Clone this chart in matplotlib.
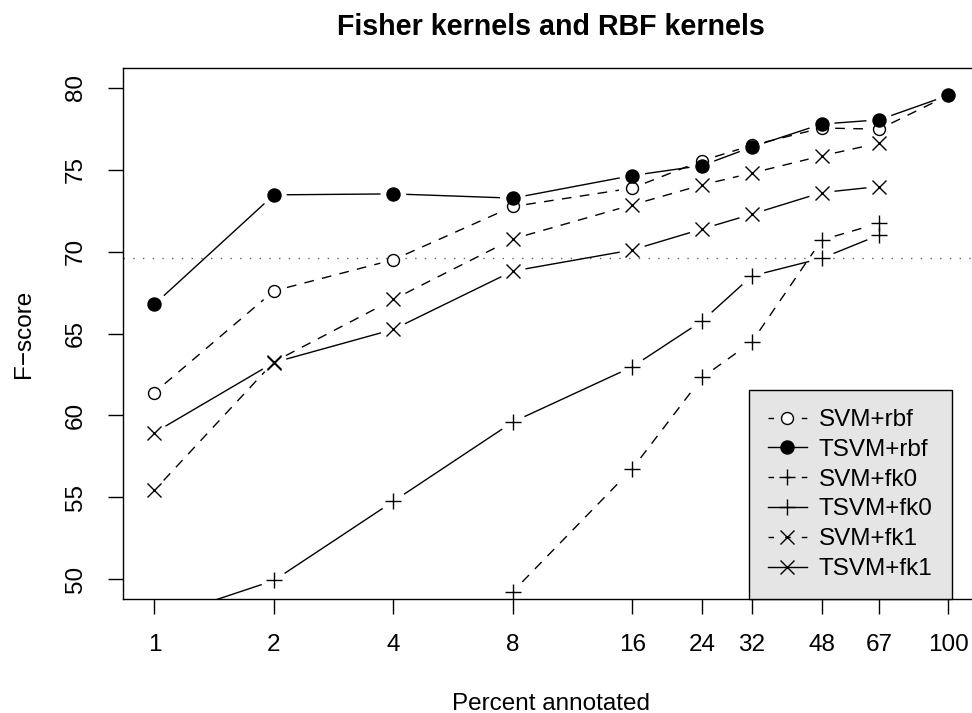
import numpy as np
import matplotlib
matplotlib.use("Agg")
import matplotlib.pyplot as plt
from matplotlib.lines import Line2D

plt.rcParams['font.family'] = ['Liberation Sans', 'DejaVu Sans']

# percent of annotated data (x) and F-scores per method
pct = [1, 2, 4, 8, 16, 24, 32, 48, 67, 100]
svm_rbf = [61.4, 67.6, 69.5, 72.75, 73.87, 75.55, 76.48, 77.54, 77.47, 79.53]
tsvm_rbf = [66.78, 73.46, 73.52, 73.26, 74.64, 75.25, 76.38, 77.78, 78.04, 79.53]
svm_fk0 = [np.nan, np.nan, np.nan, 49.25, 56.75, 62.32, 64.49, 70.71, 71.73, np.nan]
tsvm_fk0 = [47.5, 49.93, 54.76, 59.6, 62.97, 65.77, 68.51, 69.59, 71.01, np.nan]
svm_fk1 = [55.43, 63.27, 67.08, 70.77, 72.85, 74.07, 74.79, 75.84, 76.62, np.nan]
tsvm_fk1 = [58.95, 63.23, 65.25, 68.81, 70.10, 71.38, 72.28, 73.60, 73.97, np.nan]
baseline = 69.63

labels = ['SVM+rbf', 'TSVM+rbf', 'SVM+fk0', 'TSVM+fk0', 'SVM+fk1', 'TSVM+fk1']
series = [svm_rbf, tsvm_rbf, svm_fk0, tsvm_fk0, svm_fk1, tsvm_fk1]

DASH = (0, (7, 6))
LEG_DASH = (0, (4, 8))
styles = [
    dict(ls=DASH, marker='o', ms=8.6, mfc='white'),
    dict(ls='-', marker='o', ms=9.4, mfc='black'),
    dict(ls=DASH, marker='+', ms=11.5, mfc='none'),
    dict(ls='-', marker='+', ms=11.5, mfc='none'),
    dict(ls=DASH, marker='x', ms=9.4, mfc='none'),
    dict(ls='-', marker='x', ms=9.4, mfc='none'),
]
FS = 17.5

fig = plt.figure(figsize=(9.72, 7.13), dpi=100)
ax = fig.add_axes([0.1262, 0.1599, 0.882, 0.7447])
ax.set_xscale('log')
ax.set_xlim(10 ** -0.08, 10 ** 2.08)
ax.set_ylim(48.8, 81.2)

ax.axhline(baseline, color='#666666', lw=1, ls=(0, (1, 6)), zorder=1)


def draw_b(x, y, st, gap=13.5):
    # R style type="b": segments stop short of each point
    x = np.asarray(x, float)
    y = np.asarray(y, float)
    pts = ax.transData.transform(np.column_stack([x, y]))
    inv = ax.transData.inverted()
    for i in range(len(x) - 1):
        if np.isnan(y[i]) or np.isnan(y[i + 1]):
            continue
        d = pts[i + 1] - pts[i]
        L = np.hypot(*d)
        if L <= 2 * gap:
            continue
        u = d / L
        seg = inv.transform([pts[i] + u * gap, pts[i + 1] - u * gap])
        ax.plot(seg[:, 0], seg[:, 1], color='black', lw=1, ls=st['ls'], zorder=2)
    ax.plot(x, y, ls='none', marker=st['marker'], ms=st['ms'],
            mfc=st['mfc'], mec='black', mew=1, zorder=3)


for y, st in zip(series, styles):
    draw_b(pct, y, st)

handles = [Line2D([], [], color='black', lw=1,
                  ls=LEG_DASH if st['ls'] == DASH else '-',
                  marker=st['marker'], ms=st['ms'], mfc=st['mfc'],
                  mec='black', mew=1) for st in styles]
leg = ax.legend(handles, labels, loc='lower right', bbox_to_anchor=(0.967, 0.0),
                borderaxespad=0, fontsize=FS, frameon=True, fancybox=False,
                facecolor='#e5e5e5', edgecolor='black', framealpha=1,
                borderpad=0.78, handlelength=1.6, handletextpad=0.5,
                labelspacing=0.32)
leg.get_frame().set_linewidth(1)

ax.set_xticks(pct)
ax.set_xticklabels([str(p) for p in pct])
ax.minorticks_off()
ax.set_yticks([50, 55, 60, 65, 70, 75, 80])
ax.tick_params(axis='both', labelsize=FS, length=10.5, width=1, pad=15)
for lab in ax.get_yticklabels():
    lab.set_rotation(90)
    lab.set_va('center')
for s in ax.spines.values():
    s.set_linewidth(1)
ax.spines['right'].set_visible(False)

ax.set_xlabel('Percent annotated', fontsize=FS, labelpad=26)
ax.set_ylabel('F\u2212score', fontsize=FS, labelpad=22)
ax.set_title('Fisher kernels and RBF kernels', fontsize=20.6, fontweight='bold', pad=24)

fig.savefig('out.png', dpi=100)
